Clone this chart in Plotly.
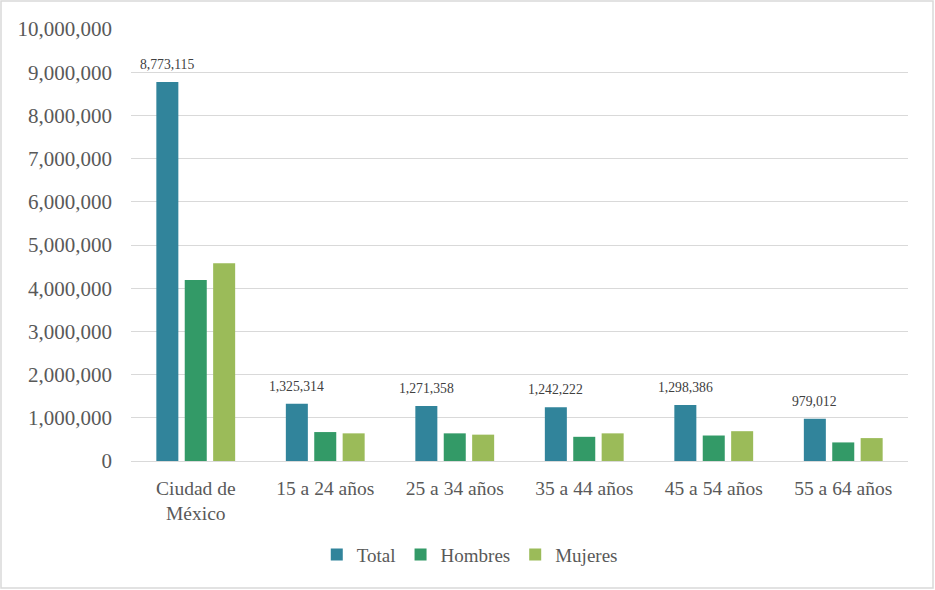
import plotly.graph_objects as go

categories = ["Ciudad de<br>México", "15 a 24 años", "25 a 34 años", "35 a 44 años", "45 a 54 años", "55 a 64 años"]
total = [8773115, 1325314, 1271358, 1242222, 1298386, 979012]
hombres = [4190000, 670000, 640000, 560000, 590000, 430000]
mujeres = [4580000, 640000, 610000, 640000, 690000, 530000]
y_ticks = list(range(0, 10000001, 1000000))

FONT = "Liberation Serif"
GRAY = "#595959"

fig = go.Figure()
fig.add_trace(go.Bar(name="Total", x=categories, y=total, marker=dict(color="#31849B", line=dict(width=0))))
fig.add_trace(go.Bar(name="Hombres", x=categories, y=hombres, marker=dict(color="#339A67", line=dict(width=0))))
fig.add_trace(go.Bar(name="Mujeres", x=categories, y=mujeres, marker=dict(color="#9BBB59", line=dict(width=0))))

for c, v in zip(categories, total):
    fig.add_annotation(x=c, y=v, xref="x", yref="y", text=f"{v:,}", showarrow=False,
                       xshift=-28.5, yshift=8, yanchor="bottom",
                       font=dict(family=FONT, size=13.7, color="#404040"))

L, R, T, B = 131, 27, 29, 129
W, H = 935, 590
pw, ph = W - L - R, H - T - B
fig.add_shape(type="rect", xref="paper", yref="paper",
              x0=(1 - L) / pw, x1=(W - 2 - L) / pw,
              y0=-(H - 2 - (H - B)) / ph, y1=(H - B - 1) / ph,
              line=dict(color="#D9D9D9", width=1.5), fillcolor="rgba(0,0,0,0)", layer="below")

fig.update_layout(
    width=W, height=H,
    margin=dict(l=L, r=R, t=T, b=B, autoexpand=False),
    barmode="group", bargap=0.342, bargroupgap=0.225,
    paper_bgcolor="white", plot_bgcolor="white",
    font=dict(family=FONT, color=GRAY, size=19),
    showlegend=True,
    legend=dict(orientation="h", x=0.436, xanchor="center", y=-0.173, yanchor="top",
                font=dict(family=FONT, size=19, color=GRAY), itemwidth=30,
                traceorder="normal", tracegroupgap=0),
    xaxis=dict(showgrid=False, showline=False, ticks="", automargin=False, ticklabelstandoff=13,
               tickfont=dict(family=FONT, size=19.5, color=GRAY)),
    yaxis=dict(range=[0, 10000000], tickvals=y_ticks, tickformat=",d", automargin=False,
               showgrid=True, gridcolor="#D9D9D9", gridwidth=1,
               zeroline=True, zerolinecolor="#D9D9D9", zerolinewidth=1,
               showline=False, ticks="", ticklabelstandoff=18,
               tickfont=dict(family=FONT, size=21, color=GRAY)),
)

fig.write_html("out.html")
